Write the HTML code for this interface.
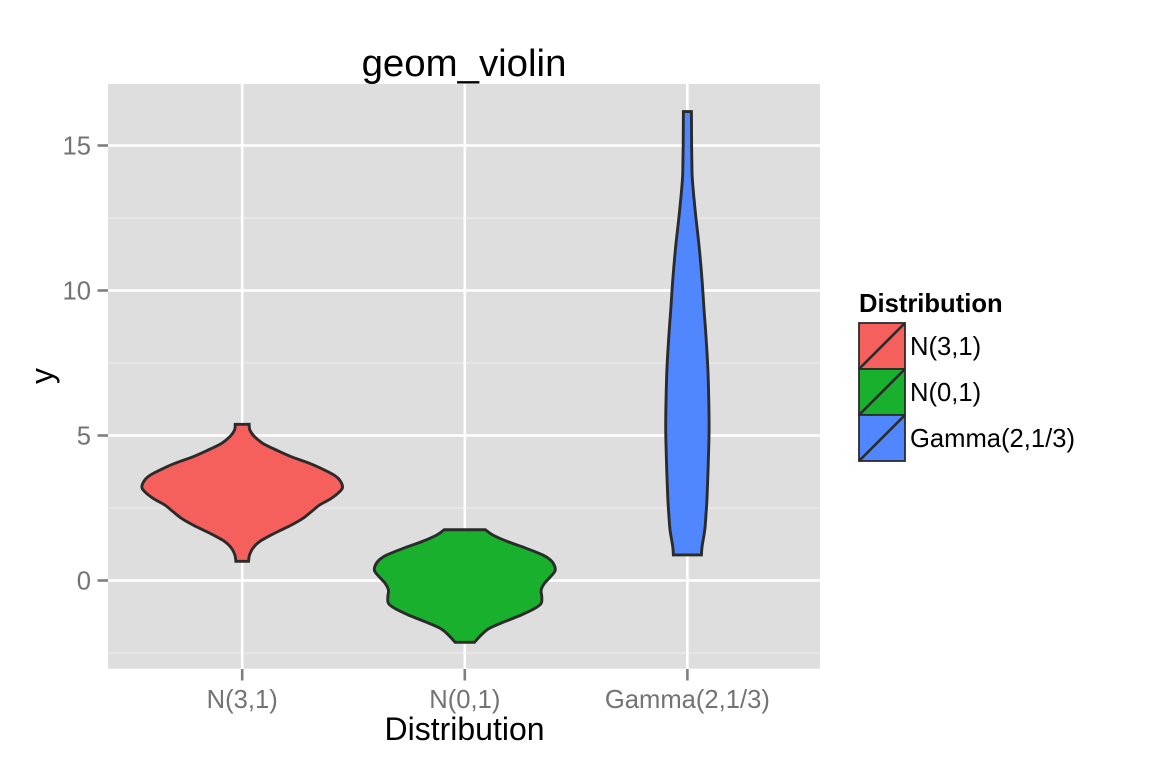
<!DOCTYPE html>
<html>
<head>
<meta charset="utf-8">
<title>geom_violin</title>
<style>
html,body{margin:0;padding:0;background:#fff;}
svg{display:block;font-family:"Liberation Sans",sans-serif;}
</style>
</head>
<body>
<svg id="chart" width="1152" height="768" viewBox="0 0 1152 768" xmlns="http://www.w3.org/2000/svg">
  <rect x="0" y="0" width="1152" height="768" fill="#fff"/>
  <rect x="108" y="84" width="712" height="584.7" fill="#dedede"/>
  <g id="grid"></g>
  <g id="violins"></g>
  <g id="axes"></g>
  <text x="464" y="76" font-size="38.4" text-anchor="middle" fill="#000">geom_violin</text>
  <text x="464.5" y="740" font-size="32" text-anchor="middle" fill="#000">Distribution</text>
  <text transform="translate(53,376) rotate(-90)" font-size="32" text-anchor="middle" fill="#000">y</text>
  <g id="legend">
    <text x="859" y="312" font-size="25.6" font-weight="bold" fill="#000">Distribution</text>
  </g>
</svg>
<script>
var categories = ['N(3,1)', 'N(0,1)', 'Gamma(2,1/3)'];
var colors = ['#f6605c', '#18b02c', '#5087ff'];
var yTicks = [0, 5, 10, 15];
var yMinorTicks = [-2.5, 2.5, 7.5, 12.5];

var redY = [5.386, 5.19, 4.96, 4.73, 4.5, 4.27, 4.04, 3.81, 3.64, 3.47, 3.23, 3.06, 2.83, 2.6, 2.37, 2.14, 1.91, 1.63, 1.34, 1.11, 0.88, 0.66];
var redWidth = [0.07, 0.076, 0.123, 0.205, 0.339, 0.488, 0.671, 0.82, 0.913, 0.97, 1.0, 0.97, 0.887, 0.77, 0.688, 0.604, 0.488, 0.322, 0.172, 0.106, 0.073, 0.063];
var greenY = [1.75, 1.57, 1.34, 1.11, 0.88, 0.707, 0.534, 0.34, 0.13, -0.097, -0.328, -0.559, -0.787, -0.959, -1.19, -1.42, -1.648, -1.88, -2.13];
var greenWidth = [0.206, 0.279, 0.428, 0.612, 0.777, 0.854, 0.891, 0.90, 0.854, 0.794, 0.761, 0.767, 0.761, 0.70, 0.562, 0.396, 0.246, 0.163, 0.097];
var blueY = [16.17, 15.02, 14.3, 13.8, 12.67, 11.51, 10.36, 9.33, 8.53, 7.37, 6.22, 5.19, 4.05, 2.89, 2.32, 1.74, 1.17, 0.88];
var blueWidth = [0.04, 0.042, 0.045, 0.05, 0.08, 0.117, 0.146, 0.166, 0.183, 0.203, 0.213, 0.216, 0.208, 0.196, 0.186, 0.173, 0.146, 0.14];

var NS = 'http://www.w3.org/2000/svg';
function yScale(v) { return 580.5 - v * 29; }
function xScale(i) { return 242.2 + i * 222.6; }
function widthScale(w) { return w * 100.35; }

function make(tag, parent, attrs) {
  var el = document.createElementNS(NS, tag);
  for (var k in attrs) { el.setAttribute(k, attrs[k]); }
  parent.appendChild(el);
  return el;
}

function smoothSide(pts) {
  var d = '';
  for (var i = 0; i < pts.length - 1; i++) {
    var p0 = pts[Math.max(i - 1, 0)], p1 = pts[i], p2 = pts[i + 1], p3 = pts[Math.min(i + 2, pts.length - 1)];
    var c1x = p1[0] + (p2[0] - p0[0]) / 6, c1y = p1[1] + (p2[1] - p0[1]) / 6;
    var c2x = p2[0] - (p3[0] - p1[0]) / 6, c2y = p2[1] - (p3[1] - p1[1]) / 6;
    d += 'C' + c1x.toFixed(2) + ' ' + c1y.toFixed(2) + ' ' + c2x.toFixed(2) + ' ' + c2y.toFixed(2) + ' ' + p2[0].toFixed(2) + ' ' + p2[1].toFixed(2);
  }
  return d;
}

var grid = document.getElementById('grid');
yMinorTicks.forEach(function (v) {
  var l = make('line', grid, { x1: 108, x2: 820, y1: yScale(v), y2: yScale(v), stroke: '#ececec', 'stroke-width': 1.3 });
  
  
});
yTicks.forEach(function (v) {
  var l = make('line', grid, { x1: 108, x2: 820, y1: yScale(v), y2: yScale(v), stroke: '#fff', 'stroke-width': 2.6 });
  
  
});
categories.forEach(function (c, i) {
  var l = make('line', grid, { x1: xScale(i), x2: xScale(i), y1: 84, y2: 668.7, stroke: '#fff', 'stroke-width': 2.6 });
  
  
});

var violinY = [redY, greenY, blueY];
var violinW = [redWidth, greenWidth, blueWidth];
var violinsG = document.getElementById('violins');
categories.forEach(function (c, i) {
  var right = violinY[i].map(function (v, j) { return [xScale(i) + widthScale(violinW[i][j]), yScale(v)]; });
  var left = violinY[i].map(function (v, j) { return [xScale(i) - widthScale(violinW[i][j]), yScale(v)]; }).reverse();
  var d = 'M' + right[0][0].toFixed(2) + ' ' + right[0][1].toFixed(2) + smoothSide(right) +
          'L' + left[0][0].toFixed(2) + ' ' + left[0][1].toFixed(2) + smoothSide(left) + 'Z';
  var p = make('path', violinsG, { d: d, fill: colors[i], stroke: '#2b2b2b', 'stroke-width': 2.9, 'stroke-linejoin': 'miter' });
  
  
});

var axes = document.getElementById('axes');
yTicks.forEach(function (v) {
  var t = make('line', axes, { x1: 97.5, x2: 108, y1: yScale(v), y2: yScale(v), stroke: '#7f7f7f', 'stroke-width': 2.6 });
  
  
  var s = make('text', axes, { x: 91, y: yScale(v) + 9, 'font-size': 25.6, 'text-anchor': 'end', fill: '#737373' });
  
  
  s.textContent = String(v);
});
categories.forEach(function (c, i) {
  var t = make('line', axes, { x1: xScale(i), x2: xScale(i), y1: 669, y2: 680.5, stroke: '#7f7f7f', 'stroke-width': 2.6 });
  
  
  var s = make('text', axes, { x: xScale(i), y: 708, 'font-size': 25.6, 'text-anchor': 'middle', fill: '#737373' });
  
  
  s.textContent = c;
});

var legend = document.getElementById('legend');
categories.forEach(function (c, i) {
  var top = 323 + i * 46;
  var r = make('rect', legend, { x: 859, y: top, width: 46, height: 46, fill: colors[i], stroke: '#2b2b2b', 'stroke-width': 1.8 });
  
  
  var l = make('line', legend, { x1: 859, y1: top + 46, x2: 905, y2: top, stroke: '#2b2b2b', 'stroke-width': 2.6 });
  
  
  var s = make('text', legend, { x: 910, y: top + 32, 'font-size': 25.6, fill: '#000' });
  
  
  s.textContent = c;
});
</script>
</body>
</html>
